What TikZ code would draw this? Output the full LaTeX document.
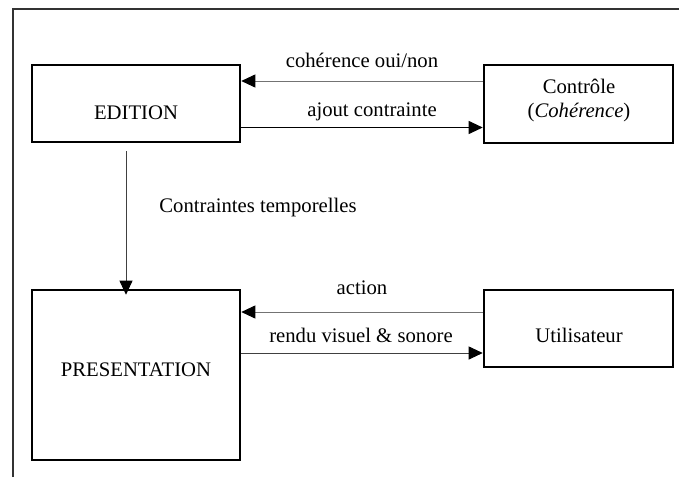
\documentclass[tikz,border=0pt]{standalone}
\usepackage{fontspec}
\setmainfont{Liberation Serif}
\usetikzlibrary{arrows.meta}
\begin{document}
\begin{tikzpicture}[x=1pt,y=-1pt,
  box/.style={draw=black,line width=2.6pt,inner sep=0pt,rectangle},
  lab/.style={anchor=base,inner sep=0pt,font=\fontsize{20.7}{24}\selectfont},
  arr/.style={line width=0.9pt,-{Triangle[length=14pt,width=13pt,color=black]}},
  arrg/.style={arr,draw=black!55},
  frame/.style={line width=1.8pt,draw=black!80}]
\useasboundingbox (0,0) rectangle (679,477);
% outer frame
\coordinate (fTL) at (13,9);
\coordinate (fBL) at (13,477);
\coordinate (fTR) at (679,9);
\draw[frame] (fBL) -- (fTL) -- (fTR);
% boxes
\node[box,minimum width=208pt,minimum height=77pt] (edition) at (136,103.5) {};
\node[box,minimum width=189pt,minimum height=78pt] (controle) at (578.5,104) {};
\node[box,minimum width=208pt,minimum height=170pt] (presentation) at (136,375) {};
\node[box,minimum width=189pt,minimum height=77pt] (utilisateur) at (578.5,328.5) {};
% box texts
\node[lab] (tEdition) at (136,119) {EDITION};
\node[lab] (tControle) at (579,93) {Contrôle};
\node[lab] (tCoherence) at (579,117) {(\textit{Cohérence})};
\node[lab] (tPresentation) at (136,376) {PRESENTATION};
\node[lab] (tUtilisateur) at (579,342) {Utilisateur};
% connector labels
\node[lab] (l1) at (362,67) {cohérence oui/non};
\node[lab] (l2) at (372,116) {ajout contrainte};
\node[lab] (l3) at (258,212) {Contraintes temporelles};
\node[lab] (l4) at (362,294) {action};
\node[lab] (l5) at (361,342) {rendu visuel \& sonore};
% connectors
\draw[arrg] ([yshift=23pt]controle.west) -- ([yshift=23pt]controle.west -| edition.east);
\draw[arr] ([yshift=-24pt]edition.east) -- ([yshift=-24pt]edition.east -| controle.west);
\draw[arrg] ([yshift=16.5pt]utilisateur.west) -- ([yshift=16.5pt]utilisateur.west -| presentation.east);
\draw[arr,draw=black!75] ([yshift=-24.5pt]utilisateur.west -| presentation.east) -- ([yshift=-24.5pt]utilisateur.west);
\draw[arr,draw=black!75] ([xshift=-10pt,yshift=-8pt]edition.south) -- ([xshift=-10pt,yshift=-6pt]presentation.north);
\end{tikzpicture}
\end{document}
